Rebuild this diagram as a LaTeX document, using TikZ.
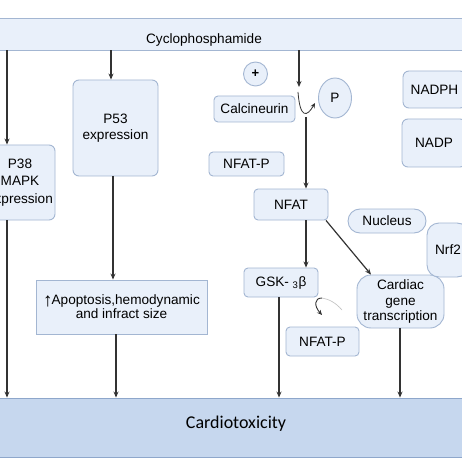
\documentclass[tikz,border=0pt]{standalone}
\usepackage{fontspec}
\setmainfont{Liberation Sans}
\newfontfamily\calfont{Carlito}
\usetikzlibrary{arrows.meta,shapes.geometric}
\definecolor{boxfill}{HTML}{E9F0FA}
\definecolor{boxline}{HTML}{A3B6D2}
\definecolor{barfill}{HTML}{C6D7EE}
\definecolor{barline}{HTML}{8EA7CB}
\definecolor{arrowcol}{HTML}{333333}
\begin{document}
\begin{tikzpicture}[x=1pt,y=-1pt,
    box/.style={draw=boxline,fill=boxfill,line width=0.9pt,rounded corners=6pt,inner sep=0pt,align=center,font=\fontsize{13.6}{15.5}\selectfont},
    sqbox/.style={box,rounded corners=0pt},
    pill/.style={box,rounded corners=12pt},
    bar/.style={draw=boxline,fill=boxfill,line width=0.9pt,minimum width=490pt,inner sep=0pt},
    lbl/.style={inner sep=0pt,font=\fontsize{13.6}{15.5}\selectfont},
    arr/.style={draw=arrowcol,line width=1.2pt,-{Stealth[length=6pt,width=5pt]}}]
\useasboundingbox (0,0) rectangle (462,462);
\fill[white] (0,0) rectangle (462,462);
\clip (0,0) rectangle (462,462);

% bars
\node[bar,minimum height=32pt] at (231,34)(cyclo){};
\node[lbl] at (204,40)(cyclotext){Cyclophosphamide};
\node[bar,fill=barfill,draw=barline,minimum height=59pt] at (231,427.5)(cardio){};
\node[inner sep=0pt,font=\calfont\fontsize{18}{20}\selectfont] at (236,424)(cardiotext){Cardiotoxicity};

% left branches
\node[box,minimum width=70pt,minimum height=75pt,font=\fontsize{13.6}{17.5}\selectfont] at (20,182.5)(p38){P38\\MAPK\\expression};
\node[box,minimum width=85pt,minimum height=96pt] at (115.5,128)(p53){P53\\expression};
\node[sqbox,minimum width=171pt,minimum height=54pt,font=\fontsize{13.6}{14}\selectfont] at (121.5,307)(apop){{\fontsize{19}{14}\selectfont\raisebox{-1.5pt}{↑}}\kern-1pt Apoptosis,hemodynamic\\and infract size};

% calcineurin / NFAT branch
\node[circle,draw=boxline,fill=boxfill,line width=0.9pt,minimum size=24pt,inner sep=0pt,font=\bfseries\fontsize{13}{13}\selectfont] at (255.5,74)(plus){+};
\node[box,minimum width=81pt,minimum height=26pt,rounded corners=4pt] at (254.5,109)(calc){Calcineurin};
\node[ellipse,draw=boxline,fill=boxfill,line width=0.9pt,minimum width=33pt,minimum height=40pt,inner sep=0pt,font=\fontsize{13.6}{15.5}\selectfont] at (335,98)(phos){P};
\node[box,minimum width=75pt,minimum height=24pt,rounded corners=4pt] at (246.5,164)(nfatpa){NFAT-P};
\node[box,minimum width=74pt,minimum height=31pt,rounded corners=4pt] at (291,204.5)(nfat){NFAT};
\node[box,minimum width=74pt,minimum height=29pt,rounded corners=4pt] at (281,282.5)(gsk){GSK- \textsubscript{3}β};
\node[box,minimum width=73pt,minimum height=29pt,rounded corners=4pt] at (322.5,341.5)(nfatpb){NFAT-P};
\node[box,minimum width=87pt,minimum height=53pt,rounded corners=14pt] at (400.5,301.5)(cardiac){Cardiac\\gene\\transcription};

% right column
\node[box,minimum width=63pt,minimum height=37pt] at (434.5,89.5)(nadph){NADPH};
\node[box,minimum width=64pt,minimum height=48pt] at (434,143)(nadp){NADP};
\node[pill,minimum width=78pt,minimum height=24pt] at (387,221)(nucleus){Nucleus};
\node[box,minimum width=42pt,minimum height=54pt,rounded corners=12pt] at (448,250)(nrf){Nrf2};

% arrows
\draw[arr] (cyclo.south -| 7,0) -- (p38.north -| 7,0);
\draw[arr] (p38.south -| 7,0) -- (cardio.north -| 7,0);
\draw[arr] (cyclo.south -| 111,0) -- (p53.north -| 111,0);
\draw[arr] (p53.south -| 113,0) -- (apop.north -| 113,0);
\draw[arr] (apop.south -| 116,0) -- (cardio.north -| 116,0);

\coordinate (hooktip) at (299,87);
\coordinate (hookstart) at (298,92);
\coordinate (hookend) at (315,103);
\coordinate (hookbase) at (306,117);
\draw[arr] (cyclo.south -| hooktip) -- (hooktip);
\draw[arr,line width=0.8pt,-{Stealth[length=5pt,width=4.5pt]}] (hookstart) .. controls (300,119) and (307,117) .. (hookend);
\draw[arr] (hookbase) -- (hookbase |- nfat.north);
\draw[arr] (nfat.south -| 306,0) -- (gsk.north -| 306,0);
\draw[arr] (nfat.south -| 326,0) -- (cardiac.north -| 371,0);
\draw[arr] (gsk.south -| 279,0) -- (cardio.north -| 279,0);
\draw[arr] (cardiac.south -| 400,0) -- (cardio.north -| 400,0);

\coordinate (curlstart) at (342,310);
\coordinate (curlmid) at (322,298);
\coordinate (curlend) at (322,315);
\draw[line width=0.6pt,black!25] (curlstart) .. controls (336,303) and (329,299) .. (curlmid);
\draw[arr,line width=0.9pt,-{Stealth[length=5pt,width=4.5pt]}] (curlmid) .. controls (314,298) and (314,306) .. (curlend);
\end{tikzpicture}
\end{document}
